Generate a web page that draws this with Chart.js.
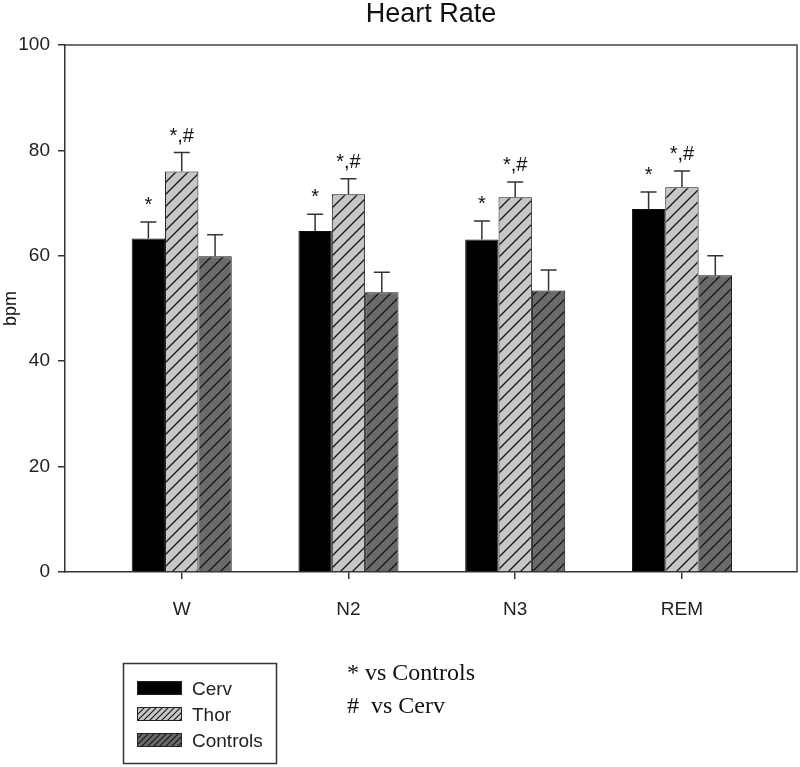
<!DOCTYPE html>
<html><head><meta charset="utf-8">
<script src="https://cdn.jsdelivr.net/npm/chart.js@4.4.1/dist/chart.umd.min.js"></script>
<style>html,body{margin:0;padding:0;background:#fff}#wrap{width:800px;height:767px;position:relative}</style>
</head><body><div id="wrap"><canvas id="c"></canvas></div>
<script>
const categories = ['W', 'N2', 'N3', 'REM'];
const seriesNames = ['Cerv', 'Thor', 'Controls'];
const cervValues = [63.3, 64.7, 63.1, 68.9];
const cervErrors = [3.1, 3.2, 3.5, 3.2];
const thorValues = [76.0, 71.7, 71.1, 73.0];
const thorErrors = [3.6, 2.9, 2.9, 3.1];
const controlValues = [59.9, 53.1, 53.4, 56.3];
const controlErrors = [4.1, 3.8, 3.9, 3.7];
const cervMarks = ['*', '*', '*', '*'];
const thorMarks = ['*,#', '*,#', '*,#', '*,#'];
const controlMarks = ['', '', '', ''];
const yTicks = [0, 20, 40, 60, 80, 100];
const notes = ['* vs Controls', '#  vs Cerv'];

const SANS = '"Liberation Sans", Arial, sans-serif';
const SERIF = '"Liberation Serif", "Times New Roman", serif';

function hatch(bg, size, lw) {
  const c = document.createElement('canvas');
  c.width = size; c.height = size;
  const g = c.getContext('2d');
  g.fillStyle = bg; g.fillRect(0, 0, size, size);
  g.strokeStyle = '#151515'; g.lineWidth = lw;
  g.beginPath();
  g.moveTo(-1, size + 1); g.lineTo(size + 1, -1);
  g.moveTo(-1, 1); g.lineTo(1, -1);
  g.moveTo(size - 1, size + 1); g.lineTo(size + 1, size - 1);
  g.stroke();
  return g.createPattern(c, 'repeat');
}
const fills = ['#000000', hatch('#c6c6c6', 12, 1.3), hatch('#6a6a6a', 12, 1.3)];
const legendFills = ['#000000', hatch('#c6c6c6', 6, 1.1), hatch('#6a6a6a', 6, 1.1)];

const toPoints = arr => arr.map((v, i) => ({ x: i + 1, y: v }));

const errorPlugin = {
  id: 'errs',
  afterDatasetsDraw(chart) {
    const ctx = chart.ctx, ys = chart.scales.y;
    chart.data.datasets.forEach((ds, i) => {
      const meta = chart.getDatasetMeta(i);
      meta.data.forEach((bar, j) => {
        const v = ds.data[j].y, e = ds.errors[j];
        const yTop = ys.getPixelForValue(v + e);
        ctx.save();
        ctx.strokeStyle = '#333'; ctx.lineWidth = 1.5;
        ctx.beginPath();
        ctx.moveTo(bar.x, bar.y); ctx.lineTo(bar.x, yTop);
        ctx.moveTo(bar.x - 8, yTop); ctx.lineTo(bar.x + 8, yTop);
        ctx.stroke();
        const m = ds.marks[j];
        if (m) {
          ctx.fillStyle = '#111'; ctx.font = '20px ' + SANS;
          ctx.textAlign = 'center'; ctx.textBaseline = 'alphabetic';
          ctx.fillText(m, bar.x, yTop - 11);
        }
        ctx.restore();
      });
    });
  }
};

const framePlugin = {
  id: 'frame',
  afterDraw(chart) {
    const { ctx, chartArea: a } = chart;
    ctx.save();
    ctx.strokeStyle = '#444'; ctx.lineWidth = 1.5;
    ctx.beginPath();
    ctx.moveTo(a.left, a.top); ctx.lineTo(a.right, a.top); ctx.lineTo(a.right, a.bottom);
    ctx.stroke();

    // legend box
    ctx.strokeStyle = '#333'; ctx.lineWidth = 1.5;
    ctx.strokeRect(123.5, 663.5, 153, 100);
    seriesNames.forEach((n, i) => {
      const y = 681 + i * 26;
      ctx.fillStyle = legendFills[i];
      ctx.fillRect(137, y, 45, 14);
      ctx.strokeStyle = '#222'; ctx.lineWidth = 1;
      ctx.strokeRect(137.5, y + 0.5, 44, 13);
      ctx.fillStyle = '#222'; ctx.font = '19px ' + SANS;
      ctx.textAlign = 'left'; ctx.textBaseline = 'alphabetic';
      ctx.fillText(n, 192, y + 14);
    });
    // notes
    ctx.fillStyle = '#111'; ctx.font = '24px ' + SERIF;
    ctx.fillText(notes[0], 347, 680);
    ctx.fillText(notes[1], 347, 713);
    ctx.restore();
  }
};

new Chart(document.getElementById('c'), {
  type: 'bar',
  data: {
    datasets: [
      { label: seriesNames[0], data: toPoints(cervValues), errors: cervErrors, marks: cervMarks, backgroundColor: fills[0], borderColor: '#111', borderWidth: 1 },
      { label: seriesNames[1], data: toPoints(thorValues), errors: thorErrors, marks: thorMarks, backgroundColor: fills[1], borderColor: '#111', borderWidth: 1 },
      { label: seriesNames[2], data: toPoints(controlValues), errors: controlErrors, marks: controlMarks, backgroundColor: fills[2], borderColor: '#111', borderWidth: 1 }
    ]
  },
  options: {
    responsive: true, maintainAspectRatio: false, animation: false,
    layout: { padding: { left: 0, right: 3, top: 0, bottom: 0 } },
    datasets: { bar: { categoryPercentage: 0.6, barPercentage: 1.0 } },
    plugins: {
      legend: { display: false },
      tooltip: { enabled: false },
      title: {
        display: true, text: 'Heart Rate', fullSize: false, color: '#111',
        font: { size: 27, family: SANS, weight: 'normal', lineHeight: 1 },
        padding: { top: 1, bottom: 17 }
      }
    },
    scales: {
      x: {
        type: 'linear', min: 0.3, max: 4.69, offset: false,
        afterBuildTicks: s => { s.ticks = categories.map((c, i) => ({ value: i + 1 })); },
        ticks: { callback: v => categories[v - 1] || '', font: { size: 19, family: SANS }, color: '#222', padding: 19, autoSkip: false, maxRotation: 0 },
        grid: { offset: false, drawOnChartArea: false, drawTicks: true, tickLength: 7, color: '#333', lineWidth: 1.5 },
        border: { display: true, color: '#333', width: 1.5 },
        afterFit: s => { s.height = 195; }
      },
      y: {
        min: 0, max: 100,
        afterBuildTicks: s => { s.ticks = yTicks.map(v => ({ value: v })); },
        ticks: { font: { size: 19, family: SANS }, color: '#222', padding: 8 },
        grid: { drawOnChartArea: false, drawTicks: true, tickLength: 7, color: '#333', lineWidth: 1.5 },
        border: { display: true, color: '#333', width: 1.5 },
        title: { display: true, text: 'bpm', font: { size: 18, family: SANS }, color: '#111', padding: 0 },
        afterFit: s => { s.width = 65; }
      }
    }
  },
  plugins: [errorPlugin, framePlugin]
});
</script>
</body></html>
